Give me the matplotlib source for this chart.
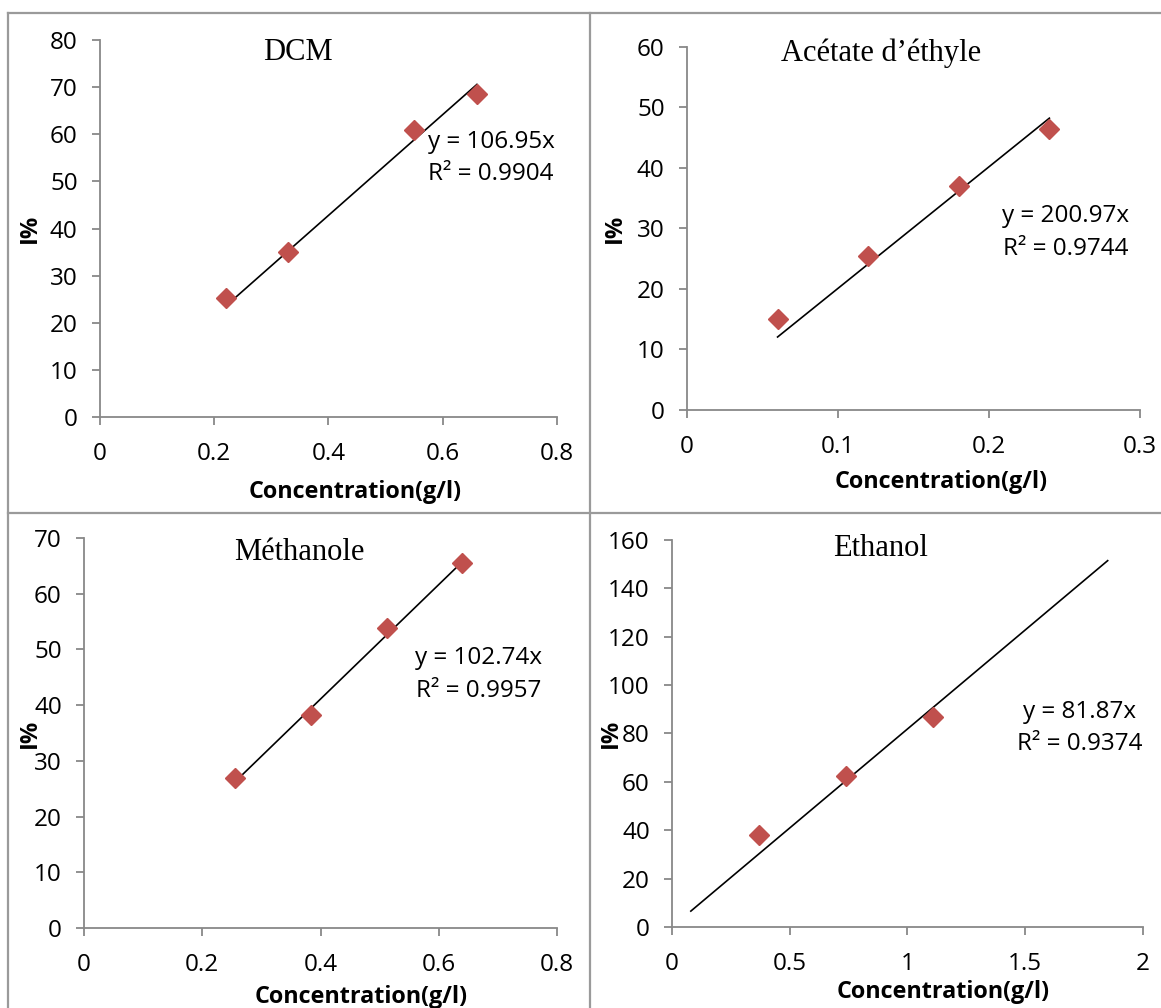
import matplotlib.pyplot as plt
from matplotlib.lines import Line2D
import numpy as np

# Données
dcm_x = [0.22, 0.33, 0.55, 0.66]
dcm_y = [25.3, 35.0, 61.0, 68.5]
dcm_pente, dcm_r2 = 106.95, 0.9904

acet_x = [0.06, 0.12, 0.18, 0.24]
acet_y = [15.0, 25.4, 37.1, 46.4]
acet_pente, acet_r2 = 200.97, 0.9744

meth_x = [0.256, 0.384, 0.512, 0.64]
meth_y = [27.0, 38.2, 53.9, 65.5]
meth_pente, meth_r2 = 102.74, 0.9957

eth_x = [0.37, 0.74, 1.11]
eth_y = [38.0, 62.5, 87.0]
eth_pente, eth_r2 = 81.87, 0.9374
eth_ligne = [0.08, 1.85]   # courbe de tendance prolongée

plt.rcParams['font.family'] = ['Open Sans', 'DejaVu Sans']

fig = plt.figure(figsize=(11.61, 10.08), dpi=100)

gris = '#888888'
rouge = '#C0504D'


def panneau(rect, x, y, pente, r2, ligne_x, titre, xmax, xticks, ymax, yticks,
            titre_pos, eq_pos, ylab_pos, xlab_pos):
    ax = fig.add_axes(rect)
    ax.plot(ligne_x, [pente * v for v in ligne_x], color='black', lw=1.2, zorder=2)
    ax.plot(x, y, 'D', color=rouge, ms=10, mec=rouge, zorder=3)
    ax.set_xlim(0, xmax)
    ax.set_ylim(0, ymax)
    ax.set_xticks(xticks)
    ax.set_yticks(yticks)
    ax.set_xticklabels([f'{v:g}' for v in xticks])
    for s in ['top', 'right']:
        ax.spines[s].set_visible(False)
    for s in ['left', 'bottom']:
        ax.spines[s].set_color(gris)
        ax.spines[s].set_linewidth(1.3)
    ax.tick_params(axis='both', direction='out', length=6, width=1.3, color=gris,
                   labelsize=17.5)
    ax.tick_params(axis='x', pad=12)
    ax.tick_params(axis='y', pad=10)
    ax.text(titre_pos[0], titre_pos[1], titre, transform=ax.transAxes, ha='center',
            va='center', fontsize=22, family='Liberation Serif')
    ax.text(eq_pos[0], eq_pos[1], f'y = {pente}x\nR² = {r2}', transform=ax.transAxes,
            ha='center', va='center', fontsize=17.5, linespacing=1.45)
    ax.text(ylab_pos[0], ylab_pos[1], 'I%', transform=ax.transAxes, rotation=90,
            ha='center', va='center', fontsize=17, fontweight='bold')
    ax.text(xlab_pos[0], xlab_pos[1], 'Concentration(g/l)', transform=ax.transAxes,
            ha='center', va='center', fontsize=16.8, fontweight='bold')
    return ax


panneau([0.0861, 0.5863, 0.3936, 0.374], dcm_x, dcm_y, dcm_pente, dcm_r2,
        [dcm_x[0], dcm_x[-1]], 'DCM', 0.8, [0, 0.2, 0.4, 0.6, 0.8], 80,
        range(0, 81, 10), (0.433, 0.968), (0.856, 0.688), (-0.153, 0.5), (0.558, -0.199))

panneau([0.5917, 0.5933, 0.3902, 0.3601], acet_x, acet_y, acet_pente, acet_r2,
        [acet_x[0], acet_x[-1]], 'Acétate d’éthyle', 0.3, [0, 0.1, 0.2, 0.3], 60,
        range(0, 61, 10), (0.428, 0.983), (0.836, 0.489), (-0.159, 0.5), (0.561, -0.198))

panneau([0.0724, 0.0794, 0.4074, 0.3869], meth_x, meth_y, meth_pente, meth_r2,
        [meth_x[0], meth_x[-1]], 'Méthanole', 0.8, [0, 0.2, 0.4, 0.6, 0.8], 70,
        range(0, 71, 10), (0.455, 0.962), (0.835, 0.650), (-0.114, 0.5), (0.586, -0.177))

panneau([0.5788, 0.0804, 0.4057, 0.3839], eth_x, eth_y, eth_pente, eth_r2,
        eth_ligne, 'Ethanol', 2, [0, 0.5, 1, 1.5, 2], 160,
        range(0, 161, 20), (0.442, 0.979), (0.866, 0.513), (-0.13, 0.5), (0.575, -0.168))

# cadres gris autour des graphiques
W, H = 1161, 1008
for (x0, y0, x1, y1) in [(8, 13, W, 13), (8, 13, 8, H), (590, 13, 590, H), (8, 513, W, 513)]:
    fig.add_artist(Line2D([x0 / W, x1 / W], [1 - y0 / H, 1 - y1 / H], color='#9a9a9a', lw=1.6))

plt.savefig('out.png', dpi=100)
